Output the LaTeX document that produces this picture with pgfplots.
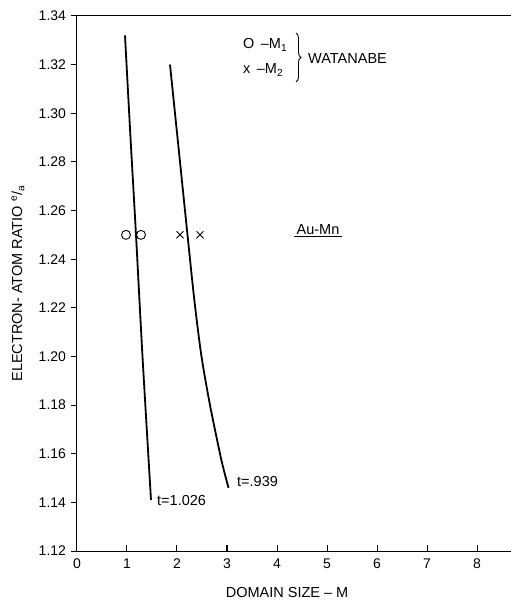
\documentclass[border=0pt]{standalone}
\usepackage{fontspec}
\setmainfont{Liberation Sans}
\usepackage{pgfplots}
\pgfplotsset{compat=1.18}
\usetikzlibrary{decorations.pathreplacing}

\begin{document}
\fontsize{14.5}{17}\selectfont
\begin{tikzpicture}
% page = 511 x 600 (1px = 1pt), axis box at (77,16)-(511,551)
\path[use as bounding box] (-77pt,-49pt) rectangle (434pt,551pt);
\begin{axis}[
    scale only axis,
    width=434pt, height=535pt,
    xmin=0, xmax=8.68,
    ymin=1.12, ymax=1.34,
    axis lines*=left,
    axis line style={line width=1pt},
    xtick={0,1,...,8},
    ytick={1.12,1.14,...,1.341},
    xtick align=inside,
    ytick align=outside,
    major tick length=6pt,
    tick style={line width=1pt, black},
    /pgf/number format/assume math mode=true,
    yticklabel style={/pgf/number format/.cd, fixed, fixed zerofill, precision=2},
    ticklabel style={font=\fontsize{14}{16}\selectfont},
    xticklabel style={yshift=-3pt},
    xlabel={DOMAIN SIZE -- M},
    ylabel={ELECTRON- ATOM RATIO \textsuperscript{e}/\textsubscript{a}},
    label style={font=\fontsize{14.5}{17}\selectfont},
    xlabel style={at={(axis description cs:0.484,0)}, yshift=-42pt, anchor=center},
    ylabel style={at={(axis description cs:-0.136,0.5)}, anchor=center},
    clip=false,
]

% t = 1.026
\addplot[black, line width=1.8pt, smooth] coordinates {
    (0.96,1.332) (1.07,1.29) (1.18,1.25) (1.31,1.20) (1.48,1.141)
};
% t = .939
\addplot[black, line width=1.8pt, smooth] coordinates {
    (1.86,1.32) (1.96,1.30) (2.06,1.28) (2.21,1.25) (2.35,1.2226)
    (2.49,1.20) (2.66,1.18) (2.86,1.16) (2.94,1.153) (3.03,1.146)
};

% Watanabe points
\addplot[only marks, mark=o, mark size=4.5pt, line width=0.9pt] coordinates {
    (0.98,1.25) (1.28,1.25)
};
\addplot[only marks, mark=x, mark size=5pt, line width=0.9pt] coordinates {
    (2.06,1.25) (2.46,1.25)
};

\draw[line width=1pt] (rel axis cs:0,1) -- (rel axis cs:1,1);

% legend
\node[anchor=west, inner sep=0pt] at (axis cs:3.32,1.3281) {O\, --M\textsubscript{1}};
\node[anchor=west, inner sep=0pt] at (axis cs:3.32,1.3178) {x\, --M\textsubscript{2}};
\draw[line width=0.9pt, decorate, decoration={brace, amplitude=5pt}]
    (axis cs:4.38,1.3330) -- (axis cs:4.38,1.3129);
\node[anchor=west, inner sep=0pt] at (axis cs:4.62,1.3227) {WATANABE};

\node at (axis cs:4.82,1.2516) {\underline{\,Au-Mn\,}};
\node[anchor=west, inner sep=0pt] at (axis cs:1.6,1.1406) {t=1.026};
\node[anchor=west, inner sep=0pt] at (axis cs:3.2,1.1484) {t=.939};

\end{axis}
\end{tikzpicture}
\end{document}
